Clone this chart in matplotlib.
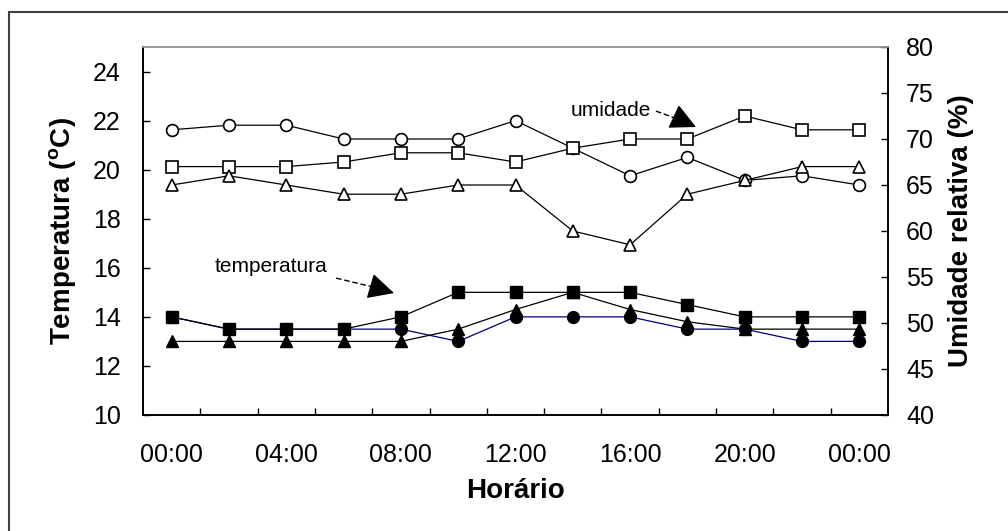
import numpy as np
import matplotlib
matplotlib.use('Agg')
import matplotlib.pyplot as plt
from matplotlib.patches import Rectangle

plt.rcParams['font.family'] = ['Liberation Sans', 'DejaVu Sans']

# horario (a cada 2 h)
horas = ['00:00', '02:00', '04:00', '06:00', '08:00', '10:00', '12:00',
         '14:00', '16:00', '18:00', '20:00', '22:00', '00:00']

# temperatura (eixo esquerdo)
temp_quad = [14, 13.5, 13.5, 13.5, 14, 15, 15, 15, 15, 14.5, 14, 14, 14]
temp_circ = [14, 13.5, 13.5, 13.5, 13.5, 13, 14, 14, 14, 13.5, 13.5, 13, 13]
temp_tri = [13, 13, 13, 13, 13, 13.5, 14.3, 15, 14.3, 13.8, 13.5, 13.5, 13.5]

# umidade relativa (eixo direito)
umid_circ = [71, 71.5, 71.5, 70, 70, 70, 72, 69, 66, 68, 65.5, 66, 65]
umid_quad = [67, 67, 67, 67.5, 68.5, 68.5, 67.5, 69, 70, 70, 72.5, 71, 71]
umid_tri = [65, 66, 65, 64, 64, 65, 65, 60, 58.5, 64, 65.5, 67, 67]

fig = plt.figure(figsize=(10.08, 5.31), dpi=100)
ax = fig.add_axes([143/1008, 1-415/531, (888-143)/1008, (415-47)/531])
ax2 = ax.twinx()

x = np.arange(len(horas))
ms = 8.5
lw = 0.9

ax.plot(x, temp_circ, color='#000080', lw=lw, marker='o', ms=ms, mfc='k', mec='k', zorder=3)
ax.plot(x, temp_tri, color='k', lw=lw, marker='^', ms=ms, mfc='k', mec='k', zorder=3)
ax.plot(x, temp_quad, color='k', lw=lw, marker='s', ms=ms, mfc='k', mec='k', zorder=4)

ax2.plot(x, umid_circ, color='k', lw=lw, marker='o', ms=ms, mfc='white', mec='k', mew=1.2)
ax2.plot(x, umid_quad, color='k', lw=lw, marker='s', ms=ms, mfc='white', mec='k', mew=1.2)
ax2.plot(x, umid_tri, color='k', lw=lw, marker='^', ms=ms, mfc='white', mec='k', mew=1.2)

ax.set_xlim(-0.5, len(horas) - 0.5)
ax.set_ylim(10, 25)
ax2.set_ylim(40, 80)

ax.set_xticks(x[::2])
ax.set_xticklabels(horas[::2], fontsize=18)
ax.set_xticks(np.arange(0.5, len(horas) - 1, 1), minor=True)
ax.tick_params(axis='x', which='major', length=0, pad=20)
ax.tick_params(axis='x', which='minor', direction='in', length=5, width=1)

ax.set_yticks(np.arange(10, 25, 2))
ax.tick_params(axis='y', direction='in', length=5, width=1, labelsize=18, pad=16)
ax2.set_yticks(np.arange(40, 81, 5))
ax2.tick_params(axis='y', direction='in', length=5, width=1, labelsize=18, pad=13)

for a in (ax, ax2):
    for s in a.spines.values():
        s.set_linewidth(1.2)
    a.spines['top'].set_color('#999999')

ax.set_ylabel('Temperatura ($^{\\mathregular{o}}$C)', fontsize=20, fontweight='bold', labelpad=10)
ax2.set_ylabel('Umidade relativa (%)', fontsize=20, fontweight='bold', labelpad=10)
ax.set_xlabel('Horário', fontsize=20, fontweight='bold', labelpad=8)

# anotacoes: haste tracejada + ponta cheia
head = dict(arrowstyle='-|>,head_length=0.9,head_width=0.45', color='k', lw=1,
            mutation_scale=18, shrinkA=0, shrinkB=0)

ax.text(0.75, 16.05, 'temperatura', fontsize=15, ha='left', va='center')
ax.plot([2.87, 3.60], [15.58, 15.17], color='k', lw=1, ls=(0, (4, 2)))
ax.annotate('', xy=(3.88, 14.97), xytext=(3.50, 15.23), arrowprops=head)

ax.text(6.97, 22.43, 'umidade', fontsize=15, ha='left', va='center')
ax.plot([8.45, 8.90], [22.39, 22.00], color='k', lw=1, ls=(0, (4, 2)))
ax.annotate('', xy=(9.15, 21.74), xytext=(8.82, 22.10), arrowprops=head)

fig.add_artist(Rectangle((9/1008, -0.05), 1.1, (531-12)/531 + 0.05,
                         transform=fig.transFigure, fill=False,
                         edgecolor='#404040', lw=1.5))

fig.savefig('out.png', dpi=100)
